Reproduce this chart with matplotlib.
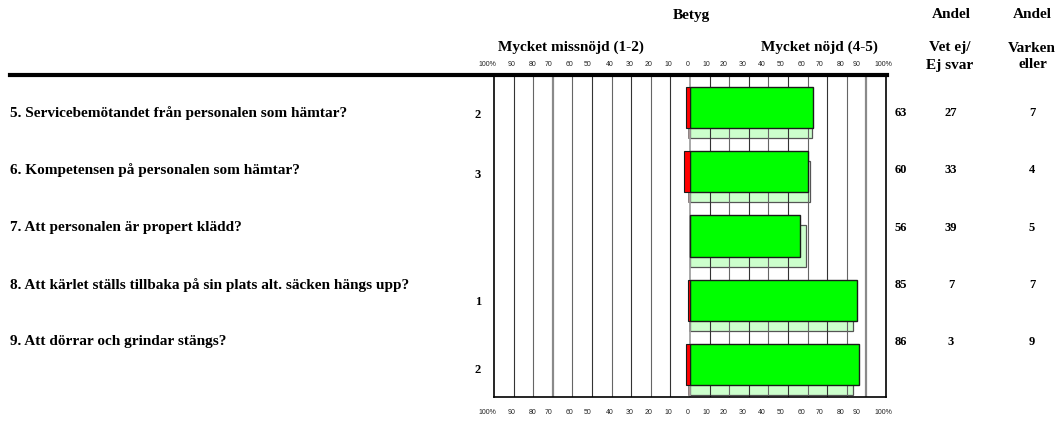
import matplotlib
matplotlib.use("Agg")
import matplotlib.pyplot as plt
from matplotlib.lines import Line2D

# ---- data ----
questions = [
    "5. Servicebemötandet från personalen som hämtar?",
    "6. Kompetensen på personalen som hämtar?",
    "7. Att personalen är propert klädd?",
    "8. Att kärlet ställs tillbaka på sin plats alt. säcken hängs upp?",
    "9. Att dörrar och grindar stängs?",
]
noejd = [63, 60, 56, 85, 86]          # Mycket nöjd (4-5), current
missnoejd = [2, 3, 0, 1, 2]           # Mycket missnöjd (1-2), current
noejd_prev = [62, 61, 59, 83, 83]     # previous measurement (shadow bars)
missnoejd_prev = [1, 1, 0, 0.5, 1]
left_labels = ["2", "3", "", "1", "2"]
betyg_labels = ["63", "60", "56", "85", "86"]
vetej = ["27", "33", "39", "7", "3"]
varken = ["7", "4", "5", "7", "9"]
tick_texts = ["100%", "90", "80", "70", "60", "50", "40", "30", "20", "10", "0",
              "10", "20", "30", "40", "50", "60", "70", "80", "90", "100%"]

# ---- layout ----
W, H = 1060, 422
fig = plt.figure(figsize=(W / 100, H / 100), dpi=100)
serif = ["Liberation Serif", "DejaVu Serif"]
sans = ["Liberation Sans", "DejaVu Sans"]

ax_l, ax_r, ax_t, ax_b = 494, 886, 75, 397
ax = fig.add_axes([ax_l / W, 1 - ax_b / H, (ax_r - ax_l) / W, (ax_b - ax_t) / H])
n = len(questions)
ax.set_xlim(-100, 100)
ax.set_ylim(n, 0)

def fy(py):
    return 1 - py / H

def fx(px):
    return px / W

# grid lines
for g in range(-90, 100, 10):
    if g in (-70, 90):
        ax.axvline(g, color="#8a8a8a", lw=1.6, zorder=2)
    elif g == 0:
        ax.axvline(g, color="#9a9a9a", lw=1.2, zorder=2)
    else:
        ax.axvline(g, color="#333333" if g % 20 else "#666666", lw=0.8, zorder=2)

h = 0.64
off = 0.155
ys = [i + 0.5 for i in range(n)]
ys_prev = [y + off for y in ys]
# shadow (previous) bars
ax.barh(ys_prev, noejd_prev, height=h, color="#ccffcc", edgecolor="#555555", lw=0.9, zorder=1)
ax.barh(ys_prev, [-v for v in missnoejd_prev], height=h, color="#ff9999", edgecolor="#777777", lw=0.6, zorder=1)
# current bars
ax.barh(ys, noejd, height=h, color="#00ff00", edgecolor="#1a1a1a", lw=1.0, zorder=3)
ax.barh(ys, [-v for v in missnoejd], height=h, color="#ff0000", edgecolor="#1a1a1a", lw=0.8, zorder=3)

ax.set_xticks([])
ax.set_yticks([])
for s in ("left", "right", "bottom"):
    ax.spines[s].set_linewidth(1.2)
    ax.spines[s].set_color("black")
ax.spines["top"].set_visible(False)

# thick top rule
fig.add_artist(Line2D([fx(10), fx(887)], [fy(75), fy(75)], lw=3, color="black"))

# tick labels (top and bottom)
tick_px = [487, 512, 533, 549, 569, 588, 610, 630, 649, 668, 688,
           706, 724, 743, 762, 781, 801, 820, 841, 857, 883]
for px, t in zip(tick_px, tick_texts):
    for py in (64, 413):
        fig.text(fx(px), fy(py), t, ha="center", va="center", fontsize=5.0,
                 family=sans, color="#222222")

# headers
bold = dict(family=serif, fontweight="bold", ha="center", va="center")
fig.text(fx(691), fy(15), "Betyg", fontsize=11, **bold)
fig.text(fx(571), fy(47), "Mycket missnöjd (1-2)", fontsize=11, **bold)
fig.text(fx(819), fy(47), "Mycket nöjd (4-5)", fontsize=11, **bold)
fig.text(fx(951), fy(15), "Andel", fontsize=11, **bold)
fig.text(fx(1032), fy(15), "Andel", fontsize=11, **bold)
fig.text(fx(950), fy(48), "Vet ej/", fontsize=11, **bold)
fig.text(fx(950), fy(65), "Ej svar", fontsize=11, **bold)
fig.text(fx(1032), fy(48), "Varken", fontsize=11, **bold)
fig.text(fx(1033), fy(65), "eller", fontsize=11, **bold)

# row texts
text_rows = [113, 170, 228, 285, 342]
left_rows = [115, 175, 236, 302, 370]
for i in range(n):
    fig.text(fx(10), fy(text_rows[i]), questions[i], family=serif, fontweight="bold",
             ha="left", va="center", fontsize=11)
    fig.text(fx(478), fy(left_rows[i]), left_labels[i], fontsize=9, **bold)
    fig.text(fx(901), fy(text_rows[i]), betyg_labels[i], fontsize=9, **bold)
    fig.text(fx(951), fy(text_rows[i]), vetej[i], fontsize=9, **bold)
    fig.text(fx(1032), fy(text_rows[i]), varken[i], fontsize=9, **bold)

fig.savefig("out.png", dpi=100, facecolor="white")
